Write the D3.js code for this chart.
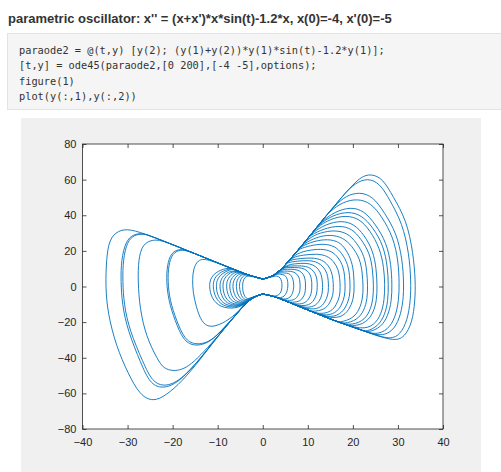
<!DOCTYPE html>
<html>
<head>
<meta charset="utf-8">
<script src="https://cdn.jsdelivr.net/npm/d3@7/dist/d3.min.js"></script>
<style>
  body { margin: 0; background: #fff; }
  svg { display: block; }
</style>
</head>
<body>
<div id="chart"></div>
<script>
var titleText = "parametric oscillator: x'' = (x+x')*x*sin(t)-1.2*x, x(0)=-4, x'(0)=-5";
var codeLines = [
  "paraode2 = @(t,y) [y(2); (y(1)+y(2))*y(1)*sin(t)-1.2*y(1)];",
  "[t,y] = ode45(paraode2,[0 200],[-4 -5],options);",
  "figure(1)",
  "plot(y(:,1),y(:,2))"
];
var xTicks = [-40, -30, -20, -10, 0, 10, 20, 30, 40];
var yTicks = [-80, -60, -40, -20, 0, 20, 40, 60, 80];

// shared edges of the bow tie (x, x')
var upperRightEdge = [[0,4.2],[2.5,5.8],[5,12],[7.5,19.5],[10,27],[13,36.5],[16,45.5],[18.3,52.5]];
var lowerRightEdge = [[29,-31],[22,-24.5],[16.3,-19.6],[10,-13.2],[5,-8],[2.5,-5.5],[0,-4.2]];
var lowerLeftEdge = [[0,-4.2],[-2.8,-6.5],[-6,-16],[-10,-28]];
var upperLeftEdge = [[-30,32.6],[-25,28.5],[-19,22.5],[-12.5,15.8],[-6.2,9.4],[-3,6.2],[0,4.2]];

// right-hand loops, from where they leave the upper edge to where they join the lower edge
var rightLobes = [
  [[20,57],[21.8,61.5],[24,63.4],[26.7,60.5],[28.9,50.5],[31.9,37.4],[33.4,18.7],[33.9,3],[33.8,-8],[33.2,-20],[31.5,-28.5],[29,-31]],
  [[18.3,52.5],[20.5,58],[23.2,60.9],[26,58],[28.2,48.5],[31,35.5],[32.5,18],[32.9,3],[32.8,-8],[32.1,-19],[30.5,-27.2],[28,-30.1]],
  [[16,45.5],[18.5,51],[21.5,53.1],[24.5,50.5],[27,41.5],[29.7,30],[31,15],[31.3,2],[31.2,-8],[30.4,-18],[28.8,-25.3],[26,-28.2]],
  [[15,42.5],[17.8,47.5],[21,49.3],[24,47],[26.5,39],[29,27.5],[30.1,14],[30.3,2],[30.2,-8],[29.4,-17.5],[27.8,-24.3],[25,-27.3]],
  [[13,36.5],[16,42],[19.5,44.7],[22.5,42.5],[25,35],[27.5,24.5],[28.5,12],[28.7,1],[28.6,-8],[27.8,-16.5],[26.3,-22.8],[23.5,-25.9]],
  [[12.5,35],[15.5,40],[19,42.2],[22,40],[24.5,33],[26.8,23],[27.7,11],[27.9,1],[27.8,-8],[27.1,-16],[25.6,-22.3],[23,-25.4]],
  [[12,33.3],[15,38],[18.5,40],[21.5,38],[23.8,31.5],[26,21.5],[26.9,10.5],[27.1,1],[27,-7.5],[26.3,-15.5],[24.8,-21.6],[22,-24.5]],
  [[11,30.2],[14,35],[17.5,37.1],[20.3,35],[22.5,29],[24.5,20],[25.2,10],[25.4,0.5],[25.3,-7.5],[24.6,-14.5],[23,-20.3],[20,-22.8]],
  [[10.5,28.6],[13.5,32.5],[17,34.3],[19.8,32.5],[21.8,26.8],[23.8,18.5],[24.4,9],[24.6,0.5],[24.5,-7],[23.8,-14],[22.2,-19.8],[19,-21.9]],
  [[10,27],[12.8,30.3],[16,31.7],[18.8,30],[20.8,24.8],[22.6,17],[23.1,8.5],[23.3,0.5],[23.2,-7],[22.5,-13.5],[21,-18.8],[18,-21.1]],
  [[9,24],[12,27.8],[15,29.2],[17.8,27.5],[19.8,22.8],[21.6,15.5],[22.1,7.5],[22.3,0],[22.2,-6.5],[21.5,-12.8],[20,-18.1],[17,-20.2]],
  [[8.5,22.5],[11.3,25.5],[14.5,26.7],[17,25.1],[18.5,20.8],[19.8,14],[20.2,7],[20.3,0],[20.2,-6],[19.5,-11.5],[18,-16.8],[15,-18.2]],
  [[8,21],[10.5,23],[13.5,24.1],[16,22.7],[17.6,18.7],[18.9,12.5],[19.3,6],[19.4,0],[19.3,-5.5],[18.6,-11],[17.2,-15.8],[14.5,-17.7]],
  [[7,18],[9.8,20.3],[13,21.2],[15.3,19.9],[16.8,16.3],[17.9,11],[18.2,5.5],[18.3,0],[18.2,-5.5],[17.5,-10.5],[16.2,-15.1],[13.5,-16.7]],
  [[6.5,16.5],[9,17.7],[12,18.4],[14.3,17.3],[15.8,14],[16.8,9.5],[17.1,4.5],[17.2,-0.5],[17.1,-5.5],[16.4,-10],[15.2,-14.3],[12.5,-15.7]],
  [[6,15],[8.3,15.7],[11,16.2],[13.1,15.1],[14.5,12.2],[15.3,8.3],[15.6,4],[15.7,-0.5],[15.6,-5],[14.9,-9.3],[13.7,-13.1],[11,-14.2]],
  [[5.5,13.5],[7.7,14.3],[10.3,14.7],[12.2,13.7],[13.5,11],[14.3,7.5],[14.55,3.5],[14.6,-0.5],[14.5,-4.8],[13.8,-8.8],[12.7,-12.3],[10,-13.2]],
  [[5,12],[7.2,12.8],[9.5,13.2],[11.2,12.3],[12.4,9.8],[13,6.7],[13.25,3],[13.3,-0.5],[13.2,-4.5],[12.6,-8.2],[11.5,-11.3],[9,-12.2]],
  [[4.8,11.5],[6.7,11.5],[8.7,11.7],[10.3,10.9],[11.3,8.6],[11.9,6],[12.1,2.5],[12.1,-0.5],[12,-4.3],[11.4,-7.7],[10.4,-10.5],[8,-11.1]],
  [[4.5,10.8],[6.2,10.6],[8,10.7],[9.4,9.9],[10.3,7.8],[10.75,5.3],[10.9,2.2],[10.9,-0.8],[10.8,-4],[10.2,-7.2],[9.2,-9.7],[7,-10.1]],
  [[4,9.5],[5.5,9.7],[7,9.7],[8.2,8.9],[9,7],[9.35,4.8],[9.5,2],[9.5,-0.8],[9.4,-3.8],[8.9,-6.5],[8,-8.7],[6,-9]],
  [[3.6,8.5],[4.9,8.7],[6.2,8.6],[7.2,7.9],[7.9,6],[8.2,4],[8.3,1.5],[8.3,-0.8],[8.2,-3.5],[7.7,-5.8],[6.9,-7.8],[5,-8]],
  [[3.3,7.7],[4.3,7.7],[5.3,7.6],[6.1,7],[6.6,5],[6.8,3],[6.9,0.8],[6.85,-1.5],[6.6,-4],[6.1,-6.1],[5.2,-7.2],[4,-7]],
  [[3,7],[3.8,7],[4.5,6.7],[5.1,6],[5.5,4],[5.6,1.5],[5.55,-1],[5.3,-3.5],[4.8,-5.5],[4,-6.4],[3,-6]],
  [[2.5,5.8],[3.2,5.9],[3.9,5],[4.2,3],[4.3,0.5],[4.2,-2],[3.9,-4],[3.2,-5.2],[2.5,-5.5]]
];

// left-hand loops, from where they leave the lower edge to where they join the upper edge
var leftLobes = [
  [[-14,-41.5],[-18,-53.5],[-21.4,-61],[-24.3,-64.8],[-27.3,-61],[-29.9,-48.7],[-32.5,-33.7],[-34.4,-15],[-34.9,0],[-34.7,15],[-34.1,26.5],[-32.1,31.5],[-29.5,32.4]],
  [[-14,-41],[-17.5,-50.5],[-19.8,-54.5],[-22.1,-56],[-24.5,-53.5],[-26.5,-43],[-29.6,-24.4],[-30.8,-10],[-31.1,3],[-31,15],[-30.1,25.3],[-28.5,29],[-26.5,29.7]],
  [[-14.2,-41.6],[-17.8,-51.5],[-20.2,-55.7],[-22.6,-57.1],[-25,-54.5],[-27,-43.5],[-30,-24.5],[-31.2,-10],[-31.5,3],[-31.4,15],[-30.4,25.6],[-28.7,29.3],[-26.8,29.9]],
  [[-13,-36.5],[-16,-44],[-18,-46.7],[-19.9,-47.5],[-22,-46],[-23.3,-41.2],[-25.9,-28.1],[-27.3,-12],[-27.7,3],[-27.6,15],[-26.7,23.8],[-24.5,26.3],[-22.5,26]],
  [[-8.5,-23],[-11,-29.5],[-13,-32],[-15.1,-32.5],[-17.3,-30],[-19.2,-18.8],[-20.6,-8],[-21.1,3],[-20.9,12],[-20.1,18.5],[-18.3,20.8],[-16.5,20]],
  [[-8.7,-23.5],[-11.2,-30.1],[-13.3,-32.7],[-15.4,-33.2],[-17.6,-30.5],[-19.5,-19],[-20.9,-8],[-21.4,3],[-21.2,12],[-20.4,18.8],[-18.6,21.1],[-16.8,20.3]],
  [[-6,-15.9],[-9,-21],[-11.8,-23.2],[-13.6,-20],[-14.8,-11.3],[-15.5,-3],[-15.6,4],[-15.4,10],[-14.4,15],[-12.5,15.8]],
  [[-3.6,-9.5],[-6,-12.6],[-9.5,-11.8],[-11.4,-6.5],[-11.9,0],[-11.6,5],[-10,8.8],[-7.5,10.7]],
  [[-3.5,-9.2],[-6,-12],[-9,-11],[-10.6,-6],[-11.1,0],[-10.8,4.8],[-9.3,8.4],[-7,10.2]],
  [[-3.4,-9],[-5.7,-11.3],[-8.5,-10.5],[-10,-5.6],[-10.4,0],[-10.1,4.5],[-8.7,8],[-6.7,9.9]],
  [[-3.3,-8.8],[-5.5,-10.8],[-8,-9.8],[-9.2,-5.2],[-9.6,0],[-9.3,4.3],[-8.1,7.7],[-6.2,9.4]],
  [[-3.2,-8.5],[-5.2,-10.3],[-7.4,-9.3],[-8.6,-5],[-8.9,0],[-8.7,4],[-7.6,7.3],[-5.9,9.1]],
  [[-3.1,-8.2],[-4.9,-9.7],[-6.8,-8.7],[-7.8,-4.6],[-8.1,0],[-7.9,3.8],[-6.9,7],[-5.5,8.7]],
  [[-3,-8],[-4.6,-9.2],[-6.2,-8.2],[-7.1,-4.3],[-7.4,0],[-7.2,3.6],[-6.3,6.7],[-5,8.1]],
  [[-2.95,-7.5],[-4.3,-8.6],[-5.6,-7.6],[-6.4,-4],[-6.7,0],[-6.5,3.4],[-5.7,6.4],[-4.6,7.6]],
  [[-2.9,-7.2],[-4,-8.1],[-5,-7],[-5.7,-3.7],[-5.9,0],[-5.8,3.2],[-5.1,6.1],[-4.1,7.1]],
  [[-2.85,-6.9],[-3.7,-7.6],[-4.5,-6.5],[-5,-3.4],[-5.2,0],[-5.1,3],[-4.5,5.8],[-3.6,6.6]],
  [[-2.8,-6.5],[-3.4,-7],[-4,-5.8],[-4.4,-3],[-4.5,0],[-4.4,2.8],[-4,5.4],[-3,6.2]]
];

var width = 501, height = 472;
var plot = { left: 82.5, right: 443, top: 144, bottom: 429 };

var svg = d3.select("#chart").append("svg")
    .attr("width", width)
    .attr("height", height);

// title
svg.append("text")
    .attr("x", 8)
    .attr("y", 22.5)
    .style("font", "bold 13px 'Liberation Sans', Arial, sans-serif")
    .style("fill", "#333")
    .text(titleText);

// code block
svg.append("rect")
    .attr("x", 7.5).attr("y", 33.5)
    .attr("width", 500).attr("height", 76)
    .attr("fill", "#f5f5f5")
    .attr("stroke", "#e3e3e3");

svg.selectAll(".code")
    .data(codeLines)
    .enter().append("text")
    .attr("class", "code")
    .attr("x", 19)
    .attr("y", function (d, i) { return 53.5 + i * 15.6; })
    .style("font", "10.3px 'DejaVu Sans Mono', monospace")
    .style("fill", "#333")
    .style("white-space", "pre")
    .text(function (d) { return d; });

// figure panel
svg.append("rect")
    .attr("x", 21).attr("y", 118)
    .attr("width", 460).attr("height", 354)
    .attr("fill", "#f0f0f0");

svg.append("rect")
    .attr("x", plot.left).attr("y", plot.top)
    .attr("width", plot.right - plot.left).attr("height", plot.bottom - plot.top)
    .attr("fill", "#fff");

var x = d3.scaleLinear().domain([-40, 40]).range([plot.left, plot.right]),
    y = d3.scaleLinear().domain([-80, 80]).range([plot.bottom, plot.top]);

var line = d3.line()
    .x(function (d) { return x(d[0]); })
    .y(function (d) { return y(d[1]); })
    .curve(d3.curveBasis);

function rightPath(lobe) {
    var first = lobe[0], last = lobe[lobe.length - 1];
    var pre = upperRightEdge.filter(function (p) { return p[1] < first[1] - 0.3 && p[0] < first[0]; });
    var post = lowerRightEdge.filter(function (p) { return p[0] < last[0] - 0.3; });
    return pre.concat(lobe, post);
}
function leftPath(lobe) {
    var first = lobe[0], last = lobe[lobe.length - 1];
    var pre = lowerLeftEdge.filter(function (p) { return p[1] > first[1] + 0.3; });
    var post = upperLeftEdge.filter(function (p) { return p[0] > last[0] + 0.3; });
    return pre.concat(lobe, post);
}

var loops = rightLobes.map(rightPath).concat(leftLobes.map(leftPath));

svg.append("g")
    .selectAll("path")
    .data(loops)
    .enter().append("path")
    .attr("d", line)
    .attr("fill", "none")
    .attr("stroke", "#0072BD")
    .attr("stroke-width", 0.9);

// axes, MATLAB style box with inward ticks
var axisColor = "#262626";
function styleAxis(g) {
    g.select(".domain").remove();
    g.selectAll(".tick line").attr("stroke", axisColor).attr("stroke-width", 0.8);
    g.selectAll(".tick text")
        .attr("fill", axisColor)
        .style("font", "11px 'Liberation Sans', Arial, sans-serif");
}

svg.append("g")
    .attr("transform", "translate(0," + plot.bottom + ")")
    .call(d3.axisBottom(x).tickValues(xTicks).tickSize(-4).tickPadding(9))
    .call(styleAxis);
svg.append("g")
    .attr("transform", "translate(0," + plot.top + ")")
    .call(d3.axisTop(x).tickValues(xTicks).tickSize(-4).tickFormat(""))
    .call(styleAxis);
svg.append("g")
    .attr("transform", "translate(" + plot.left + ",0)")
    .call(d3.axisLeft(y).tickValues(yTicks).tickSize(-4).tickPadding(6))
    .call(styleAxis);
svg.append("g")
    .attr("transform", "translate(" + plot.right + ",0)")
    .call(d3.axisRight(y).tickValues(yTicks).tickSize(-4).tickFormat(""))
    .call(styleAxis);

svg.append("rect")
    .attr("x", plot.left).attr("y", plot.top)
    .attr("width", plot.right - plot.left).attr("height", plot.bottom - plot.top)
    .attr("fill", "none")
    .attr("stroke", axisColor)
    .attr("stroke-width", 0.8);
</script>
</body>
</html>
